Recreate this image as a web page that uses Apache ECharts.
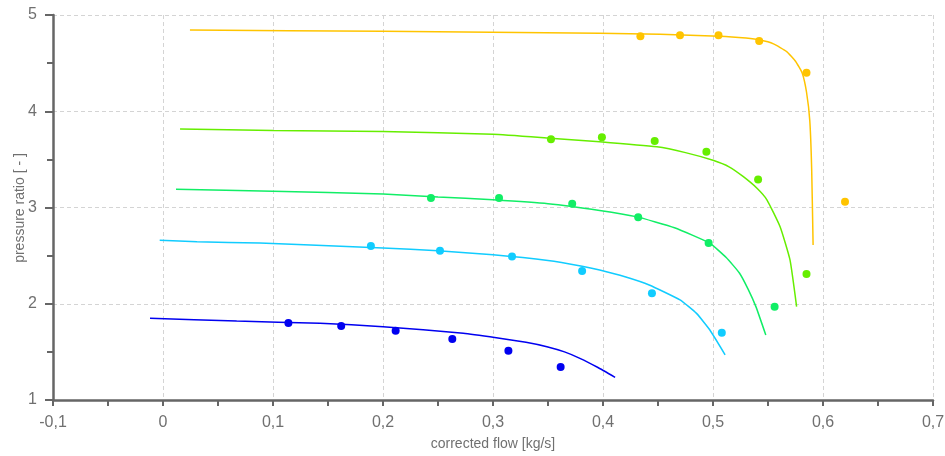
<!DOCTYPE html>
<html><head><meta charset="utf-8">
<script src="https://cdn.jsdelivr.net/npm/echarts@6/dist/echarts.min.js"></script>
<style>html,body{margin:0;padding:0;background:#fff}#c{width:945px;height:456px}</style>
</head><body><div id="c"></div>
<script>
// Model curves: [corrected flow, pressure ratio]
const curveYellow = [[0.0245,4.844],[0.2,4.83],[0.397,4.81],[0.452,4.80],[0.506,4.78],[0.53,4.76],[0.543,4.74],[0.555,4.70],[0.567,4.62],[0.575,4.52],[0.581,4.40],[0.585,4.20],[0.588,3.90],[0.5897,3.40],[0.591,2.61]];
const curveLime = [[0.0155,3.815],[0.1,3.80],[0.2,3.79],[0.3,3.76],[0.352,3.72],[0.397,3.684],[0.449,3.63],[0.475,3.57],[0.5,3.49],[0.515,3.42],[0.5276,3.32],[0.54,3.20],[0.549,3.08],[0.561,2.80],[0.570,2.455],[0.576,1.97]];
const curveGreen = [[0.0118,3.19],[0.1,3.17],[0.2,3.14],[0.25,3.11],[0.3,3.08],[0.35,3.04],[0.397,2.97],[0.43,2.905],[0.465,2.79],[0.497,2.63],[0.512,2.48],[0.524,2.32],[0.532,2.15],[0.539,1.97],[0.548,1.675]];
const curveCyan = [[-0.003,2.66],[0.031,2.645],[0.088,2.63],[0.134,2.61],[0.2,2.58],[0.25,2.55],[0.3,2.51],[0.35,2.45],[0.381,2.39],[0.397,2.35],[0.42,2.28],[0.442,2.195],[0.47,2.04],[0.485,1.90],[0.497,1.73],[0.511,1.47]];
const curveBlue = [[-0.0118,1.849],[0.067,1.82],[0.1427,1.797],[0.2,1.762],[0.273,1.693],[0.303,1.647],[0.33,1.60],[0.349,1.554],[0.365,1.50],[0.379,1.433],[0.395,1.34],[0.411,1.236]];
// Measured points
const ptsYellow = [[0.434,4.78],[0.47,4.79],[0.505,4.79],[0.542,4.73],[0.585,4.40],[0.62,3.06]];
const ptsLime = [[0.3527,3.71],[0.399,3.73],[0.447,3.69],[0.494,3.58],[0.541,3.29],[0.585,2.31]];
const ptsGreen = [[0.2436,3.10],[0.3055,3.10],[0.372,3.04],[0.432,2.90],[0.496,2.63],[0.556,1.97]];
const ptsCyan = [[0.189,2.60],[0.2518,2.55],[0.3173,2.49],[0.381,2.34],[0.4445,2.11],[0.508,1.70]];
const ptsBlue = [[0.114,1.80],[0.162,1.77],[0.2115,1.72],[0.263,1.634],[0.314,1.512],[0.3615,1.343]];
const xName = 'corrected flow [kg/s]';
const yName = 'pressure ratio [ - ]';
</script>
<script>
const colors = {y:'#FFC400', l:'#66EE00', g:'#11EE66', c:'#11CCFF', b:'#0000F0'};
const FONT = "'Liberation Sans Narrow', 'Liberation Sans', sans-serif";
const chart = echarts.init(document.getElementById('c'));
const fmt = v => String(Math.round(v*10)/10).replace('.', ',');
function line(d,c){return {type:'line',data:d,showSymbol:false,smooth:0.15,lineStyle:{color:c,width:1.5},z:2};}
function sc(d,c){return {type:'scatter',data:d,symbolSize:8,itemStyle:{color:c,opacity:1},z:3};}
chart.setOption({
  animation:false,
  grid:{left:53,right:12,top:15,bottom:56,containLabel:false,outerBoundsMode:'none'},
  graphic:[{type:'text',x:20,y:208,rotation:Math.PI/2,
    style:{text:yName,fill:'#707070',font:"14px 'Liberation Sans', sans-serif",align:'center',verticalAlign:'middle'}}],
  xAxis:{type:'value',min:-0.1,max:0.7,interval:0.1,name:xName,nameLocation:'middle',nameGap:37,
    nameTextStyle:{color:'#707070',fontSize:14,fontFamily:FONT},
    axisLine:{onZero:false,lineStyle:{color:'#666',width:2.5}},
    axisTick:{show:true,length:6,lineStyle:{color:'#666',width:2}},
    minorTick:{show:true,splitNumber:2,length:6,lineStyle:{color:'#666',width:2}},
    axisLabel:{color:'#707070',fontSize:16,fontFamily:FONT,formatter:fmt,margin:15},
    splitLine:{show:true,lineStyle:{color:'#d4d4d4',type:[4,3],width:1}}},
  yAxis:{type:'value',min:1,max:5,interval:1,
    axisLine:{show:true,onZero:false,lineStyle:{color:'#666',width:2.5}},
    axisTick:{show:true,length:8,lineStyle:{color:'#666',width:2}},
    minorTick:{show:true,splitNumber:2,length:6,lineStyle:{color:'#666',width:2}},
    axisLabel:{color:'#707070',fontSize:16,fontFamily:FONT,margin:16},
    splitLine:{show:true,lineStyle:{color:'#d4d4d4',type:[4,3],width:1}}},
  series:[
    line(curveYellow,colors.y), line(curveLime,colors.l), line(curveGreen,colors.g), line(curveCyan,colors.c), line(curveBlue,colors.b),
    sc(ptsYellow,colors.y), sc(ptsLime,colors.l), sc(ptsGreen,colors.g), sc(ptsCyan,colors.c), sc(ptsBlue,colors.b)
  ]
});
</script>
</body></html>
